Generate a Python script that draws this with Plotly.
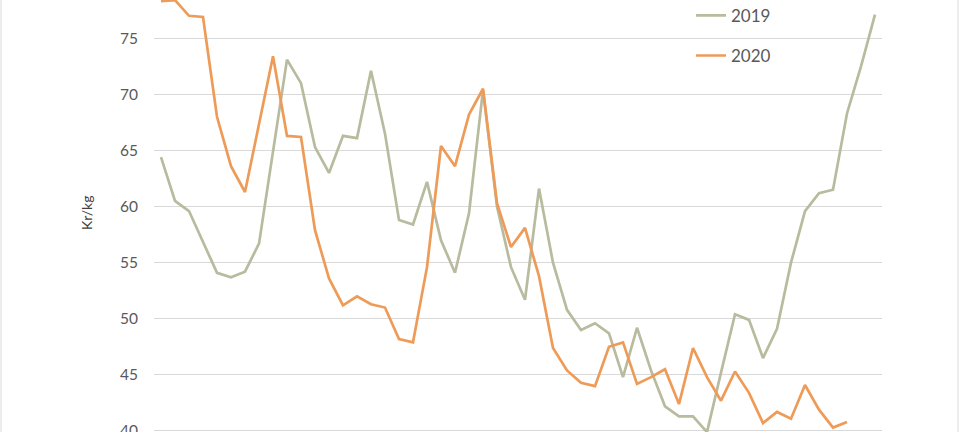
import plotly.graph_objects as go

weeks_2019 = list(range(1, 53))
weeks_2020 = list(range(1, 51))

price_2019 = [64.4, 60.5, 59.6, 56.8, 54.1, 53.7, 54.2, 56.7, 64.9, 73.1,
              71.0, 65.3, 63.0, 66.3, 66.1, 72.1, 66.5, 58.8, 58.4, 62.2,
              57.0, 54.1, 59.4, 70.4, 60.0, 54.6, 51.7, 61.6, 55.0, 50.8,
              49.0, 49.6, 48.7, 44.8, 49.2, 45.4, 42.2, 41.3, 41.3, 39.9,
              45.2, 50.4, 49.9, 46.5, 49.1, 55.0, 59.6, 61.2, 61.5, 68.3,
              72.5, 77.1]

price_2020 = [78.3, 78.4, 77.0, 76.9, 68.0, 63.6, 61.3, 67.4, 73.4, 66.3,
              66.2, 57.9, 53.6, 51.2, 52.0, 51.3, 51.0, 48.2, 47.9, 54.6,
              65.4, 63.6, 68.2, 70.5, 60.3, 56.4, 58.1, 53.8, 47.4, 45.4,
              44.3, 44.0, 47.5, 47.9, 44.2, 44.8, 45.5, 42.4, 47.4, 44.8,
              42.7, 45.3, 43.4, 40.7, 41.7, 41.1, 44.1, 41.9, 40.3, 40.8]

y_ticks = [40, 45, 50, 55, 60, 65, 70, 75]

FONT = "Lato, 'Open Sans', sans-serif"
C2019 = "#b8bb9e"
C2020 = "#ee9b58"

fig = go.Figure()
fig.add_trace(go.Scatter(x=weeks_2019, y=price_2019, mode="lines", name="2019",
                         legendgroup="a",
                         line=dict(color=C2019, width=2.7)))
fig.add_trace(go.Scatter(x=weeks_2020, y=price_2020, mode="lines", name="2020",
                         legendgroup="b",
                         line=dict(color=C2020, width=2.7)))

fig.update_layout(
    width=960, height=432,
    margin=dict(l=154, r=78, t=0, b=0, autoexpand=False),
    paper_bgcolor="white", plot_bgcolor="white",
    font=dict(family=FONT, color="#595959", size=16),
    showlegend=True,
    legend=dict(x=(691 - 154) / 728, y=1.005, xanchor="left", yanchor="top",
                bgcolor="rgba(0,0,0,0)", font=dict(size=17, color="#595959"),
                itemwidth=30, tracegroupgap=15, traceorder="grouped"),
    xaxis=dict(range=[0.5, 52.5], showticklabels=False, showgrid=False,
               zeroline=False, showline=False, ticks="", automargin=False),
    yaxis=dict(range=[39.91, 78.41], tickvals=y_ticks, showgrid=True,
               gridcolor="#d9d9d9", gridwidth=1, zeroline=False,
               showline=False, ticks="", ticklabelstandoff=15,
               ticklabeloverflow="allow", automargin=False,
               tickfont=dict(size=15.5, color="#595959")),
    annotations=[dict(text="Kr/kg", xref="paper", yref="paper",
                      x=(86 - 154) / 728, y=1 - 213 / 432, textangle=-90,
                      showarrow=False, xanchor="center", yanchor="middle",
                      font=dict(size=14, color="#404040", family=FONT))],
    shapes=[dict(type="line", xref="paper", yref="paper",
                 x0=(1 - 154) / 728, x1=(1 - 154) / 728, y0=0, y1=1,
                 line=dict(color="#d9d9d9", width=1)),
            dict(type="line", xref="paper", yref="paper",
                 x0=(958 - 154) / 728, x1=(958 - 154) / 728, y0=0, y1=1,
                 line=dict(color="#d9d9d9", width=1))],
)

fig.write_html("out.html", config={"displayModeBar": False},
               post_script="document.body.style.margin='0';document.body.style.overflow='hidden';")
